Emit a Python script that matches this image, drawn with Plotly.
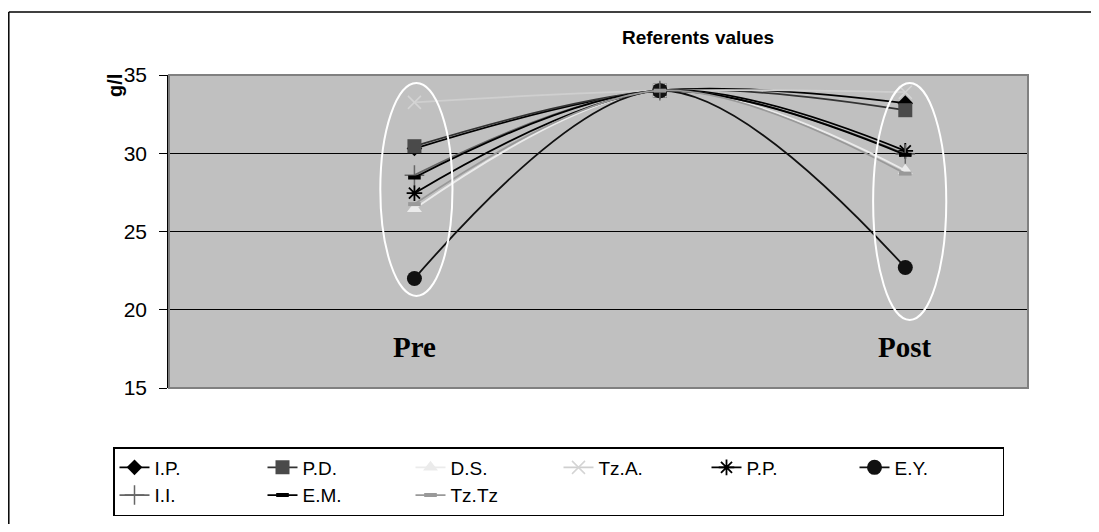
import plotly.graph_objects as go

stages = [1, 2, 3]  # Pre, Referents value, Post
series_names = ["I.P.", "P.D.", "D.S.", "Tz.A.", "P.P.", "E.Y.", "I.I.", "E.M.", "Tz.Tz"]
ip_vals = [30.3, 34.0, 33.2]
pd_vals = [30.45, 34.0, 32.75]
ds_vals = [26.45, 34.0, 28.9]
tza_vals = [33.25, 34.0, 33.9]
pp_vals = [27.45, 34.0, 30.15]
ey_vals = [22.0, 34.0, 22.7]
ii_vals = [28.6, 34.0, 29.95]
em_vals = [28.45, 34.0, 29.9]
tztz_vals = [26.75, 34.0, 28.7]
y_ticks = [15, 20, 25, 30, 35]
title_text = "Referents values"
y_title = "g/l"
pre_label = "Pre"
post_label = "Post"

styles = {
    "I.P.":  dict(lc="#000000", mc="#000000", sym="diamond", size=12, mlw=0),
    "P.D.":  dict(lc="#333333", mc="#4a4a4a", sym="square", size=14, mlw=0),
    "D.S.":  dict(lc="#ebebeb", mc="#ebebeb", sym="triangle-up", size=13, mlw=0),
    "Tz.A.": dict(lc="#cfcfcf", mc="#d4d4d4", sym="x-thin-open", size=13, mlw=1.5),
    "P.P.":  dict(lc="#000000", mc="#000000", sym="asterisk-open", size=13, mlw=1.8),
    "E.Y.":  dict(lc="#111111", mc="#111111", sym="circle", size=15, mlw=0),
    "I.I.":  dict(lc="#666666", mc="#666666", sym="cross-thin-open", size=14, mlw=1.5),
    "E.M.":  dict(lc="#000000", mc="#000000", sym="line-ew-open", size=9, mlw=4),
    "Tz.Tz": dict(lc="#999999", mc="#999999", sym="line-ew-open", size=9, mlw=4),
}
data = [ip_vals, pd_vals, ds_vals, tza_vals, pp_vals, ey_vals, ii_vals, em_vals, tztz_vals]

fig = go.Figure()
for name, vals in zip(series_names, data):
    s = styles[name]
    fig.add_trace(go.Scatter(
        x=stages, y=vals, name=name, mode="lines+markers",
        line=dict(color=s["lc"], width=1.8, shape="spline", smoothing=1),
        marker=dict(symbol=s["sym"], size=s["size"], color=s["mc"],
                    line=dict(color=s["mc"], width=s["mlw"])),
    ))

OFF = 8  # page body margin offset
W, H = 1099 - 2 * OFF, 532 - 2 * OFF
L = 169 - OFF
T = 75 - OFF
R = W - (1028 - OFF)
B = H - (388 - OFF)
pw, ph = W - L - R, H - T - B

def px_x(p):
    return (p - OFF - L) / pw

def px_y(p):
    return (H - B - (p - OFF)) / ph

shapes = [
    # outer chart frame (left and top edges visible), kept within the figure
    dict(type="line", xref="paper", yref="paper", x0=px_x(8.8), x1=px_x(OFF + W), y0=px_y(12), y1=px_y(12),
         line=dict(color="#000000", width=1.5), layer="below"),
    dict(type="line", xref="paper", yref="paper", x0=px_x(8.8), x1=px_x(8.8), y0=px_y(12), y1=px_y(OFF + H),
         line=dict(color="#000000", width=1.5), layer="below"),
    # plot area border
    dict(type="rect", xref="paper", yref="paper", x0=0, x1=1, y0=0, y1=1,
         line=dict(color="#808080", width=2), fillcolor="rgba(0,0,0,0)", layer="above"),
    # ellipses
    dict(type="circle", xref="x", yref="y", x0=0.861, x1=1.155, y0=20.88, y1=34.49,
         line=dict(color="#ffffff", width=2)),
    dict(type="circle", xref="x", yref="y", x0=2.869, x1=3.167, y0=19.35, y1=34.49,
         line=dict(color="#ffffff", width=2)),
]

annotations = [
    dict(text="<b>" + title_text + "</b>", xref="paper", yref="paper", x=px_x(698), y=px_y(38),
         showarrow=False, font=dict(family="Liberation Sans Narrow, Arial Narrow, Liberation Sans, Arial", size=19, color="#000"),
         xanchor="center", yanchor="middle"),
    dict(text="<b>" + y_title + "</b>", xref="paper", yref="paper", x=px_x(115), y=px_y(86),
         showarrow=False, textangle=-90, font=dict(family="Liberation Sans, Arial", size=20, color="#000"),
         xanchor="center", yanchor="middle"),
    dict(text="<b>" + pre_label + "</b>", xref="x", yref="y", x=1, y=17.65, showarrow=False,
         font=dict(family="Liberation Serif, Times New Roman, serif", size=29, color="#000")),
    dict(text="<b>" + post_label + "</b>", xref="x", yref="y", x=3, y=17.65, showarrow=False,
         font=dict(family="Liberation Serif, Times New Roman, serif", size=29, color="#000")),
]

fig.update_layout(
    width=W, height=H,
    margin=dict(l=L, r=R, t=T, b=B, autoexpand=False),
    paper_bgcolor="#ffffff", plot_bgcolor="#c0c0c0",
    font=dict(family="Liberation Sans, Arial, sans-serif", size=18, color="#000"),
    shapes=shapes, annotations=annotations,
    showlegend=True,
    legend=dict(orientation="h", x=px_x(113), y=px_y(447), xanchor="left", yanchor="top",
                bordercolor="#000000", borderwidth=1.5, bgcolor="#ffffff",
                entrywidth=103, entrywidthmode="pixels",
                font=dict(size=19, family="Liberation Sans, Arial, sans-serif"),
                traceorder="normal"),
    xaxis=dict(range=[0, 3.5], visible=False, fixedrange=True),
    yaxis=dict(range=[15, 35], tickvals=y_ticks, showgrid=True, gridcolor="#000000", gridwidth=1,
               zeroline=False, showline=True, linecolor="#000000", linewidth=1.5,
               ticks="outside", ticklen=8, tickcolor="#000000", tickwidth=1,
               ticklabelstandoff=8, tickfont=dict(size=21)),
)

fig.write_html("out.html")
